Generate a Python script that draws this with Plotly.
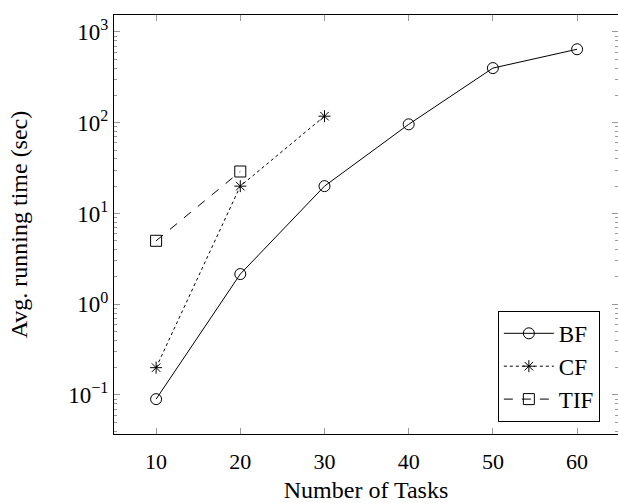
import plotly.graph_objects as go

tasks_bf = [10, 20, 30, 40, 50, 60]
time_bf = [0.09, 2.15, 20, 96, 400, 645]
tasks_cf = [10, 20, 30]
time_cf = [0.2, 20, 118]
tasks_tif = [10, 20]
time_tif = [5.0, 29]

ytick_vals = [0.1, 1, 10, 100, 1000]
ytick_text = ["10<sup>−1</sup>", "10<sup>0</sup>", "10<sup>1</sup>", "10<sup>2</sup>", "10<sup>3</sup>"]
xtick_vals = [10, 20, 30, 40, 50, 60]
minor_vals = [m * d for d in [0.01, 0.1, 1, 10, 100, 1000] for m in range(2, 10)]

FONT = "Liberation Serif, DejaVu Serif, serif"

fig = go.Figure()
fig.add_trace(go.Scatter(x=tasks_bf, y=time_bf, name="BF", mode="lines+markers",
                         line=dict(color="black", width=1),
                         marker=dict(symbol="circle-open", size=11, color="black", line=dict(width=1))))
fig.add_trace(go.Scatter(x=tasks_cf, y=time_cf, name="CF", mode="lines+markers",
                         line=dict(color="black", width=1, dash="dot"),
                         marker=dict(symbol="asterisk-open", size=10, color="black", line=dict(width=1))))
fig.add_trace(go.Scatter(x=tasks_tif, y=time_tif, name="TIF", mode="lines+markers",
                         line=dict(color="black", width=1, dash="dash"),
                         marker=dict(symbol="square-open", size=11, color="black", line=dict(width=1))))

fig.update_layout(
    width=618, height=503,
    margin=dict(l=114, r=0, t=15, b=69),
    paper_bgcolor="white", plot_bgcolor="white",
    font=dict(family=FONT, size=22, color="black"),
    showlegend=True,
    legend=dict(x=0.964, y=0.029, xanchor="right", yanchor="bottom",
                bordercolor="black", borderwidth=1, bgcolor="white",
                font=dict(family=FONT, size=23), itemwidth=50,
                tracegroupgap=0),
    xaxis=dict(range=[5, 64.86], tickvals=xtick_vals, ticks="inside", ticklen=6,
               tickcolor="#999", showline=True, linecolor="black", linewidth=1,
               mirror="ticks", showgrid=False, zeroline=False,
               ticklabelstandoff=8,
               title=dict(text="Number of Tasks", font=dict(size=24), standoff=8),
               tickfont=dict(size=22)),
    yaxis=dict(type="log", range=[-1.43, 3.187], tickvals=ytick_vals, ticktext=ytick_text,
               ticks="inside", ticklen=6, tickcolor="#999",
               showline=True, linecolor="black", linewidth=1, mirror="ticks",
               showgrid=False, zeroline=False,
               minor=dict(ticks="inside", ticklen=3, tickcolor="#999", tickmode="array",
                          tickvals=minor_vals, showgrid=False),
               title=dict(text="Avg. running time (sec)", font=dict(size=24), standoff=33),
               tickfont=dict(size=23)),
)

fig.write_html("out.html", config={"displayModeBar": False},
               post_script="document.body.style.margin='0';document.body.style.overflow='hidden';")
